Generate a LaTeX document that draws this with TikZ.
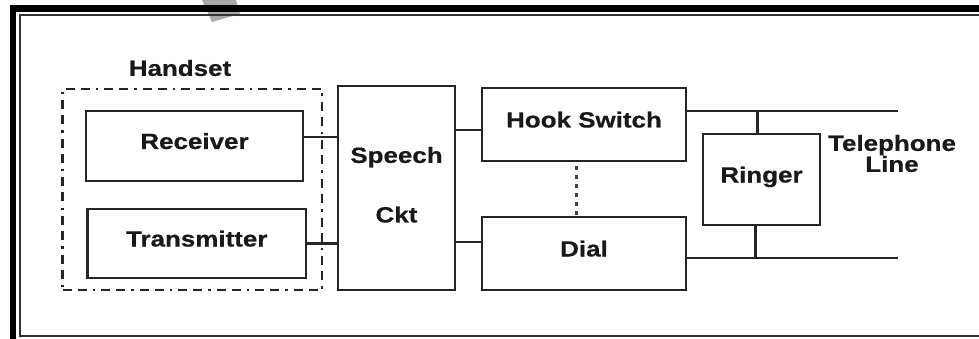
\documentclass[tikz,border=0pt]{standalone}
\usepackage{fontspec}
\setmainfont{Liberation Sans}[FakeStretch=1.18]
\newfontfamily\lblfont{Liberation Sans Bold}[FakeStretch=1.18,FakeBold=0.6]
\begin{document}
\begin{tikzpicture}[x=1pt,y=-1pt,
  lbl/.style={font=\fontsize{22}{22}\lblfont, text=black!90},
  blk/.style={draw=black!85, line width=2.5pt, rectangle, inner sep=0pt, lbl},
  one/.style={text height=16pt, text depth=10pt},
  wire/.style={draw=black!85, line width=2.2pt},
  dashbox/.style={draw=black!85, line width=2.4pt, rectangle, inner sep=0pt,
    dash pattern=on 9pt off 6pt on 9pt off 6pt on 2.5pt off 6pt},
  dotline/.style={draw=black!75, line width=3pt, dash pattern=on 4pt off 5pt}]
\useasboundingbox (0,0) rectangle (979,339);
\clip (0,0) rectangle (979,339);
% watermark fragment
\fill[black!33] (202,0) -- (236,0) -- (240,14) -- (212,22) -- cycle;
% frame
\draw[line width=6.5pt, black] (13,8.5) rectangle (995,350);
\draw[line width=1.7pt, black!80] (19.8,14.8) rectangle (995,336);
% handset
\node[dashbox, minimum width=259.5pt, minimum height=201pt] (hs) at (192.25,189.5) {};
\node[lbl] (hslbl) at (180,68) {Handset};
\node[blk, one, minimum width=217pt, minimum height=70pt] (rec) at (194.5,146) {Receiver};
\node[blk, one, minimum width=218.5pt, minimum height=69pt] (tra) at (196.75,243.5) {Transmitter};
% speech circuit
\node[blk, minimum width=117pt, minimum height=204pt] (spc) at (396.5,188)
  {\raisebox{6pt}{\begin{tabular}{@{}c@{}}Speech\\[37pt]Ckt\end{tabular}}};
% hook switch and dial
\node[blk, one, minimum width=204pt, minimum height=73pt] (hook) at (584,124.5) {Hook Switch};
\node[blk, one, minimum width=204pt, minimum height=73pt] (dial) at (584,253.5) {Dial};
% ringer
\node[blk, one, minimum width=117pt, minimum height=91pt] (ring) at (761.5,179.5) {Ringer};
\node[lbl, align=center, inner sep=0pt] (tel) at (892,153.5) {Telephone\\[-1pt]Line};
% coordinates
\coordinate (r1) at (330,137);
\coordinate (s1) at (470,130);
\coordinate (s2) at (470,242);
\coordinate (tl) at (898,111);
\coordinate (bl) at (898,258);
% connectors
\draw[wire] (rec.east |- r1) -- (spc.west |- r1);
\draw[wire] (tra.east) -- (spc.west |- tra.east);
\draw[wire] (spc.east |- s1) -- (hook.west |- s1);
\draw[wire] (spc.east |- s2) -- (dial.west |- s2);
\draw[wire] (hook.east |- tl) -- (tl);
\draw[wire] (dial.east |- bl) -- (bl);
\draw[wire] ([xshift=-4pt]ring.north) -- ([xshift=-4pt]ring.north |- tl);
\draw[wire] ([xshift=-6pt]ring.south) -- ([xshift=-6pt]ring.south |- bl);
\draw[dotline] ([xshift=-8pt,yshift=-4pt]hook.south) -- ([xshift=-8pt]dial.north);
\end{tikzpicture}
\end{document}
